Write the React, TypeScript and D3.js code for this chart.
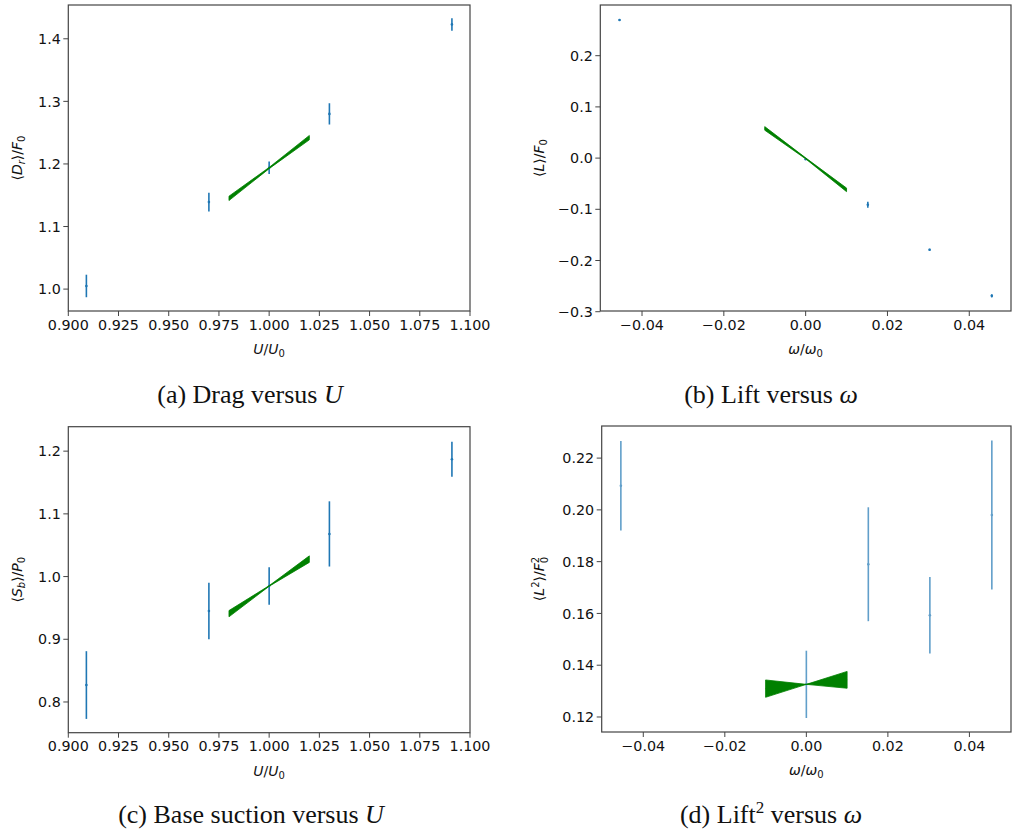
import React from 'react';
import * as d3 from 'd3';

// ---- data ----
const uX = [0.909, 0.97, 1.0, 1.03, 1.091];
const wX = [-0.0455, 0.0, 0.0152, 0.0303, 0.0455];

const dragY = [1.005, 1.139, 1.194, 1.28, 1.423];
const dragErr = [0.018, 0.015, 0.01, 0.017, 0.01];
const dragFitX = [0.98, 1.0, 1.02];
const dragFitLo = [1.1415, 1.1925, 1.2385];
const dragFitHi = [1.1485, 1.1945, 1.2455];

const liftY = [0.2697, -0.002, -0.091, -0.179, -0.269];
const liftErr = [0.002, 0.001, 0.006, 0.002, 0.003];
const liftFitX = [-0.01, 0.0, 0.01];
const liftFitLo = [0.0545, -0.0015, -0.0655];
const liftFitHi = [0.0615, 0.0005, -0.0585];

const suctionY = [0.827, 0.945, 0.985, 1.068, 1.187];
const suctionErr = [0.054, 0.045, 0.03, 0.052, 0.028];
const suctionFitX = [0.98, 1.0, 1.02];
const suctionFitLo = [0.9358, 0.9845, 1.0226];
const suctionFitHi = [0.9458, 0.9855, 1.033];

const lift2Y = [0.2093, 0.1326, 0.179, 0.1593, 0.198];
const lift2Err = [0.0173, 0.013, 0.022, 0.0148, 0.0288];
const lift2FitX = [-0.01, 0.0, 0.01];
const lift2FitLo = [0.1276, 0.1326, 0.1311];
const lift2FitHi = [0.1343, 0.1326, 0.1376];

const uTicks = [0.9, 0.925, 0.95, 0.975, 1.0, 1.025, 1.05, 1.075, 1.1];
const wTicks = [-0.04, -0.02, 0.0, 0.02, 0.04];
const dragTicks = [1.0, 1.1, 1.2, 1.3, 1.4];
const liftTicks = [-0.3, -0.2, -0.1, 0.0, 0.1, 0.2];
const suctionTicks = [0.8, 0.9, 1.0, 1.1, 1.2];
const lift2Ticks = [0.12, 0.14, 0.16, 0.18, 0.2, 0.22];

const BLUE = '#1f77b4';
const GREEN = '#008000';
const SANS = '"DejaVu Sans", sans-serif';
const SERIF = '"Liberation Serif", "DejaVu Serif", serif';

type PanelProps = {
  left: number; top: number; right: number; bottom: number;
  xDomain: [number, number]; yDomain: [number, number];
  xTicks: number[]; yTicks: number[]; xFmt: string; yFmt: string;
  xs: number[]; ys: number[]; errs: number[];
  fitX: number[]; fitLo: number[]; fitHi: number[];
  xLabel: React.ReactNode; yLabel: React.ReactNode; yLabelX: number;
  caption: React.ReactNode; captionX: number; captionY: number;
  barOpacity?: number;
};

function Panel(p: PanelProps) {
  const x = d3.scaleLinear().domain(p.xDomain).range([p.left, p.right]);
  const y = d3.scaleLinear().domain(p.yDomain).range([p.bottom, p.top]);
  const xf = d3.format(p.xFmt);
  const yf = d3.format(p.yFmt);
  const band = p.fitX.map((v, i) => ({ x: v, lo: p.fitLo[i], hi: p.fitHi[i] }));
  const area = d3.area<{ x: number; lo: number; hi: number }>()
    .x(d => x(d.x)).y0(d => y(d.lo)).y1(d => y(d.hi));
  const mid = d3.line<{ x: number; lo: number; hi: number }>()
    .x(d => x(d.x)).y(d => y((d.lo + d.hi) / 2));
  const cy = (p.top + p.bottom) / 2;
  const cx = (p.left + p.right) / 2;
  return (
    <g>
      {p.xs.map((v, i) => (
        <g key={'e' + i} opacity={p.barOpacity ?? 1}>
          <line x1={x(v)} x2={x(v)} y1={y(p.ys[i] - p.errs[i])} y2={y(p.ys[i] + p.errs[i])}
            stroke={BLUE} strokeWidth={1.6} />
          <circle cx={x(v)} cy={y(p.ys[i])} r={1.3} fill={BLUE} />
        </g>
      ))}
      <path d={area(band) || ''} fill={GREEN} stroke={GREEN} strokeWidth={0.8} />
      <path d={mid(band) || ''} fill="none" stroke={GREEN} strokeWidth={1} />
      <rect x={p.left} y={p.top} width={p.right - p.left} height={p.bottom - p.top}
        fill="none" stroke="#444" strokeWidth={1.2} />
      {p.xTicks.map(t => (
        <g key={'xt' + t}>
          <line x1={x(t)} x2={x(t)} y1={p.bottom} y2={p.bottom + 5} stroke="#444" strokeWidth={1} />
          <text x={x(t)} y={p.bottom + 18.5} textAnchor="middle" fontFamily={SANS} fontSize={14.3} fill="#111">{xf(t)}</text>
        </g>
      ))}
      {p.yTicks.map(t => (
        <g key={'yt' + t}>
          <line x1={p.left - 5} x2={p.left} y1={y(t)} y2={y(t)} stroke="#444" strokeWidth={1} />
          <text x={p.left - 7.5} y={y(t)} dy="0.36em" textAnchor="end" fontFamily={SANS} fontSize={14.3} fill="#111">{yf(t)}</text>
        </g>
      ))}
      <text x={cx} y={p.bottom + 43} textAnchor="middle" fontFamily={SANS} fontSize={14} fill="#111">{p.xLabel}</text>
      <text transform={`translate(${p.yLabelX},${cy}) rotate(-90)`} textAnchor="middle" fontFamily={SANS} fontSize={14} fill="#111">{p.yLabel}</text>
      <text x={p.captionX} y={p.captionY} textAnchor="middle" fontFamily={SERIF} fontSize={26} fill="#111">{p.caption}</text>
    </g>
  );
}

const it = { fontStyle: 'italic' as const };

export default function App() {
  const uLabel = (<><tspan style={it}>U</tspan>/<tspan style={it}>U</tspan><tspan fontSize={10} dy={3}>0</tspan></>);
  const wLabel = (<><tspan style={it}>ω</tspan>/<tspan style={it}>ω</tspan><tspan fontSize={10} dy={3}>0</tspan></>);
  return (
    <svg width={1013} height={832} style={{ position: 'absolute', left: 0, top: 0, background: '#fff' }}>
      <Panel left={68.3} top={5} right={470} bottom={311}
        xDomain={[0.9, 1.1]} yDomain={[0.965, 1.454]}
        xTicks={uTicks} yTicks={dragTicks} xFmt=".3f" yFmt=".1f"
        xs={uX} ys={dragY} errs={dragErr}
        fitX={dragFitX} fitLo={dragFitLo} fitHi={dragFitHi}
        xLabel={uLabel}
        yLabel={<>⟨<tspan style={it}>D</tspan><tspan style={it} fontSize={10} dy={3}>r</tspan><tspan dy={-3}>⟩/</tspan><tspan style={it}>F</tspan><tspan fontSize={10} dy={3}>0</tspan></>}
        yLabelX={22}
        caption={<>(a) Drag versus <tspan style={it}>U</tspan></>} captionX={250} captionY={403} />
      <Panel left={600.3} top={5} right={1011} bottom={311}
        xDomain={[-0.0502, 0.0502]} yDomain={[-0.2986, 0.299]}
        xTicks={wTicks} yTicks={liftTicks} xFmt=".2f" yFmt=".1f"
        xs={wX} ys={liftY} errs={liftErr}
        fitX={liftFitX} fitLo={liftFitLo} fitHi={liftFitHi}
        xLabel={wLabel}
        yLabel={<>⟨<tspan style={it}>L</tspan>⟩/<tspan style={it}>F</tspan><tspan fontSize={10} dy={3}>0</tspan></>}
        yLabelX={544}
        caption={<>(b) Lift versus <tspan style={it}>ω</tspan></>} captionX={771} captionY={403} />
      <Panel left={68.3} top={426.7} right={470} bottom={732.7}
        xDomain={[0.9, 1.1]} yDomain={[0.751, 1.239]}
        xTicks={uTicks} yTicks={suctionTicks} xFmt=".3f" yFmt=".1f"
        xs={uX} ys={suctionY} errs={suctionErr}
        fitX={suctionFitX} fitLo={suctionFitLo} fitHi={suctionFitHi}
        xLabel={uLabel}
        yLabel={<>⟨<tspan style={it}>S</tspan><tspan style={it} fontSize={10} dy={3}>b</tspan><tspan dy={-3}>⟩/</tspan><tspan style={it}>P</tspan><tspan fontSize={10} dy={3}>0</tspan></>}
        yLabelX={22}
        caption={<>(c) Base suction versus <tspan style={it}>U</tspan></>} captionX={251} captionY={823} />
      <Panel left={601.7} top={426} right={1011} bottom={732}
        xDomain={[-0.0502, 0.0502]} yDomain={[0.1142, 0.2324]}
        xTicks={wTicks} yTicks={lift2Ticks} xFmt=".2f" yFmt=".2f"
        xs={wX} ys={lift2Y} errs={lift2Err}
        fitX={lift2FitX} fitLo={lift2FitLo} fitHi={lift2FitHi}
        xLabel={wLabel}
        yLabel={<>⟨<tspan style={it}>L</tspan><tspan fontSize={10} dy={-5}>2</tspan><tspan dy={5}>⟩/</tspan><tspan style={it}>F</tspan><tspan fontSize={10} dy={-5}>2</tspan><tspan fontSize={10} dx={-6.4} dy={9}>0</tspan></>}
        yLabelX={544}
        barOpacity={0.7}
        caption={<>(d) Lift<tspan fontSize={17} dy={-10}>2</tspan><tspan dy={10}> versus </tspan><tspan style={it}>ω</tspan></>} captionX={771} captionY={823} />
    </svg>
  );
}
